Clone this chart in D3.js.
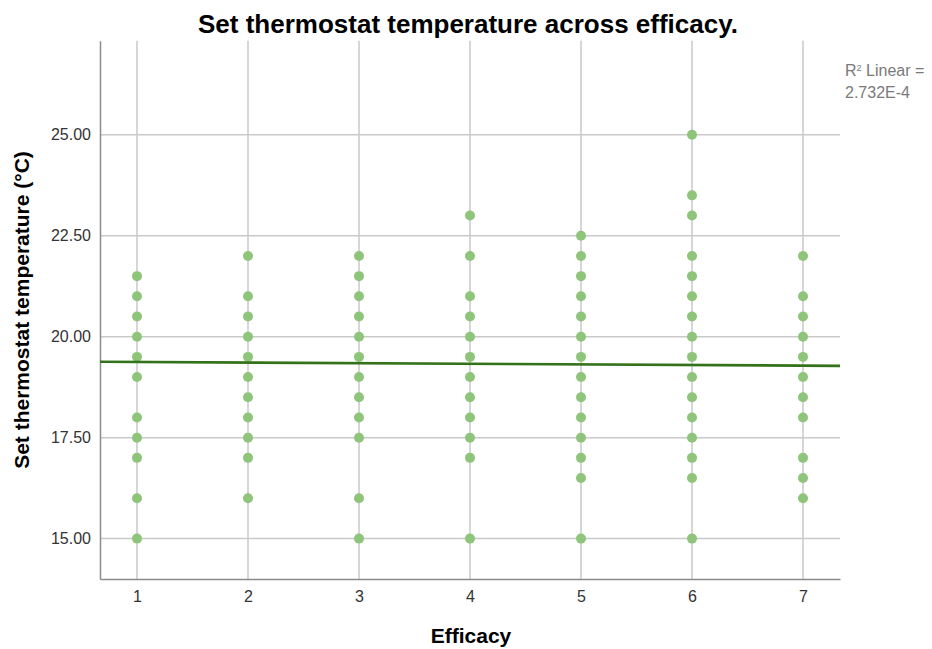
<!DOCTYPE html>
<html>
<head>
<meta charset="utf-8">
<script src="https://cdn.jsdelivr.net/npm/d3@7"></script>
<style>
  html, body { margin: 0; padding: 0; background: #fff; }
  svg { display: block; font-family: "Liberation Sans", Arial, sans-serif; }
</style>
</head>
<body>
<svg id="chart" width="932" height="649"></svg>
<script>
// Efficacy levels and the set thermostat temperatures recorded at each level
const efficacyLevels = [1, 2, 3, 4, 5, 6, 7];
const tempsEff1 = [21.5, 21, 20.5, 20, 19.5, 19, 18, 17.5, 17, 16, 15];
const tempsEff2 = [22, 21, 20.5, 20, 19.5, 19, 18.5, 18, 17.5, 17, 16];
const tempsEff3 = [22, 21.5, 21, 20.5, 20, 19.5, 19, 18.5, 18, 17.5, 16, 15];
const tempsEff4 = [23, 22, 21, 20.5, 20, 19.5, 19, 18.5, 18, 17.5, 17, 15];
const tempsEff5 = [22.5, 22, 21.5, 21, 20.5, 20, 19.5, 19, 18.5, 18, 17.5, 17, 16.5, 15];
const tempsEff6 = [25, 23.5, 23, 22, 21.5, 21, 20.5, 20, 19.5, 19, 18.5, 18, 17.5, 17, 16.5, 15];
const tempsEff7 = [22, 21, 20.5, 20, 19.5, 19, 18.5, 18, 17, 16.5, 16];
const tempsByLevel = [tempsEff1, tempsEff2, tempsEff3, tempsEff4, tempsEff5, tempsEff6, tempsEff7];

// Linear fit (full sample) and its R²
const fitIntercept = 19.388;
const fitSlope = -0.0149;
const rSquaredText = "2.732E-4";

const yTickValues = [15, 17.5, 20, 22.5, 25];
const xTickValues = efficacyLevels;

const svg = d3.select("#chart");
const plotLeft = 100, plotRight = 840, plotTop = 40.7, plotBottom = 579;

const x = d3.scaleLinear().domain([2 / 3, 7 + 1 / 3]).range([plotLeft, plotRight]);
const y = d3.scaleLinear().domain([14, 27.33]).range([plotBottom, plotTop]);

const points = [];
tempsByLevel.forEach((temps, i) => temps.forEach(t => points.push({ eff: efficacyLevels[i], temp: t })));

// Grid lines
const grid = svg.append("g");
grid.selectAll("line.h").data(yTickValues).join("line").attr("class", "h")
  .attr("x1", plotLeft).attr("x2", plotRight)
  .attr("y1", d => y(d)).attr("y2", d => y(d))
  .attr("stroke", "#c9c9c9").attr("stroke-width", 1.5);
grid.selectAll("line.v").data(xTickValues).join("line").attr("class", "v")
  .attr("x1", d => x(d)).attr("x2", d => x(d))
  .attr("y1", plotTop).attr("y2", plotBottom)
  .attr("stroke", "#c9c9c9").attr("stroke-width", 1.5);

// Axes
const yAxis = svg.append("g").attr("transform", `translate(${plotLeft},0)`)
  .call(d3.axisLeft(y).tickValues(yTickValues).tickFormat(d3.format(".2f")).tickSize(0).tickPadding(9));
const xAxis = svg.append("g").attr("transform", `translate(0,${plotBottom})`)
  .call(d3.axisBottom(x).tickValues(xTickValues).tickFormat(d3.format("d")).tickSize(0).tickPadding(12));
[yAxis, xAxis].forEach(a => {
  a.select(".domain").attr("stroke", "#8c8c8c").attr("stroke-width", 1.5);
  a.selectAll(".tick text").attr("fill", "#333").style("font-size", "16px")
    .style("font-family", "'Liberation Sans', Arial, sans-serif");
});

// Data points
svg.append("g").selectAll("circle").data(points).join("circle")
  .attr("cx", d => x(d.eff)).attr("cy", d => y(d.temp)).attr("r", 5)
  .attr("fill", "#8fc47b");

// Fit line across the full plot width
const [x0, x1] = x.domain();
svg.append("line")
  .attr("x1", x(x0)).attr("y1", y(fitIntercept + fitSlope * x0))
  .attr("x2", x(x1)).attr("y2", y(fitIntercept + fitSlope * x1))
  .attr("stroke", "#33721a").attr("stroke-width", 2.6);

// Title and axis labels
svg.append("text").attr("x", 468).attr("y", 33).attr("text-anchor", "middle")
  .style("font-size", "26px").style("font-weight", "bold").attr("fill", "#000")
  .text("Set thermostat temperature across efficacy.");
svg.append("text").attr("x", 471).attr("y", 643).attr("text-anchor", "middle")
  .style("font-size", "21px").style("font-weight", "bold").attr("fill", "#000")
  .text("Efficacy");
svg.append("text").attr("transform", "translate(29,310) rotate(-90)").attr("text-anchor", "middle")
  .style("font-size", "21px").style("font-weight", "bold").attr("fill", "#000")
  .text("Set thermostat temperature (°C)");

// R² annotation
const ann = svg.append("text").attr("x", 845).attr("y", 76).attr("fill", "#7a7a7a")
  .style("font-size", "16px");
ann.append("tspan").text("R");
ann.append("tspan").attr("dy", -5).style("font-size", "9px").text("2");
ann.append("tspan").attr("dy", 5).text(" Linear =");
svg.append("text").attr("x", 845).attr("y", 98).attr("fill", "#7a7a7a")
  .style("font-size", "16px")
  .text(rSquaredText);
</script>
</body>
</html>
